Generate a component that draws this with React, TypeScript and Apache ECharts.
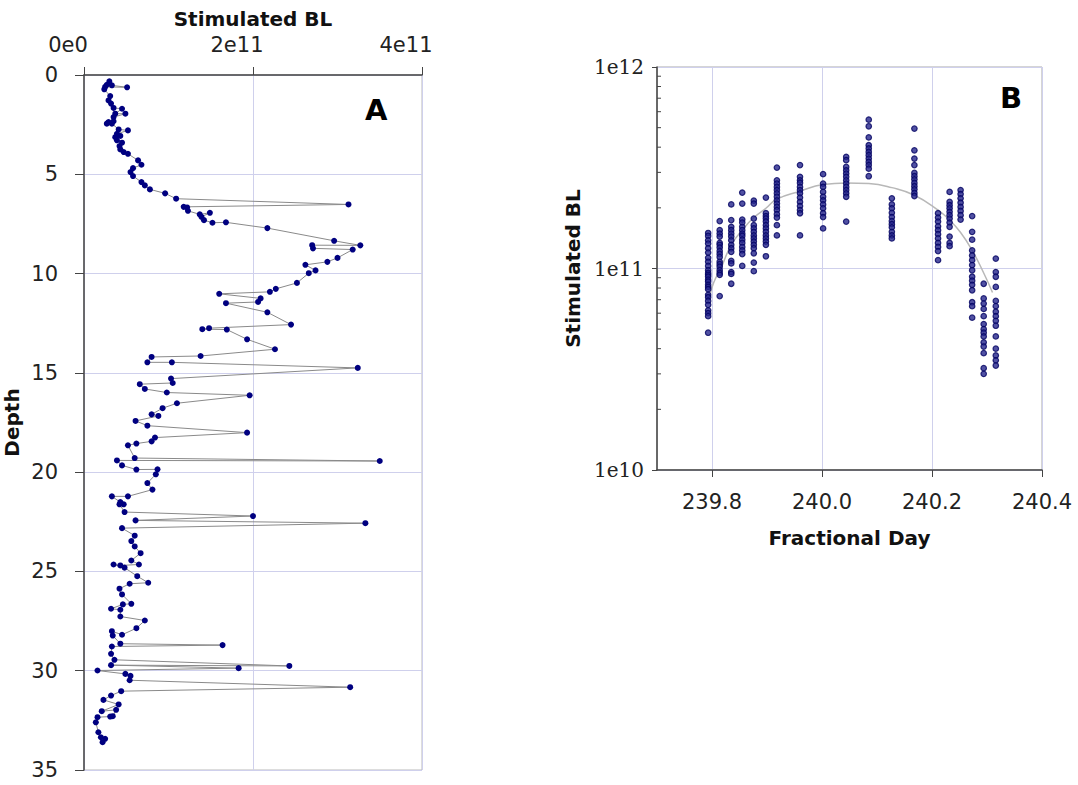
import React, { useEffect, useRef } from 'react';
import * as echarts from 'echarts';

// ---------- Panel A: depth profile ----------
const depthA = [
  0.32, 0.52, 0.49, 0.62, 0.60, 0.72, 1.06, 1.28, 1.44, 1.66, 1.70, 1.95, 1.95, 2.12, 2.33, 2.37, 2.45, 2.45,
  2.74, 2.79, 2.96, 3.07, 3.13, 3.29, 3.41, 3.58, 3.75, 3.88, 3.97, 4.30, 4.52, 4.69, 4.89, 5.09, 5.39, 5.56,
  5.76, 5.96, 6.23, 6.52, 6.64, 6.67, 6.84, 7.02, 6.94, 7.14, 7.31, 7.44, 7.42, 7.71, 8.35, 8.58, 8.57, 8.73,
  8.79, 9.21, 9.41, 9.56, 9.84, 9.98, 10.47, 10.77, 10.92, 11.02, 11.25, 11.43, 11.49, 11.95, 12.57, 12.75,
  12.80, 12.82, 13.31, 13.81, 14.15, 14.20, 14.47, 14.47, 14.75, 15.29, 15.51, 15.57, 15.81, 15.99, 16.13,
  16.53, 16.78, 17.09, 17.17, 17.42, 17.66, 18.01, 18.26, 18.45, 18.56, 18.65, 19.29, 19.44, 19.41, 19.66,
  19.87, 19.86, 20.11, 20.55, 20.88, 21.22, 21.22, 21.51, 21.62, 21.62, 22.01, 22.21, 22.43, 22.57, 22.82,
  23.20, 23.47, 23.74, 24.08, 24.45, 24.65, 24.70, 24.65, 24.81, 25.24, 25.57, 25.62, 25.87, 26.16, 26.63,
  26.66, 26.88, 26.93, 27.27, 27.47, 27.86, 28.19, 28.01, 28.23, 28.64, 28.71, 28.78, 29.15, 29.45, 29.76,
  29.72, 29.87, 29.99, 30.16, 30.26, 30.48, 30.83, 31.03, 31.25, 31.47, 31.70, 32.04, 31.97, 32.29, 32.31,
  32.34, 32.60, 33.10, 33.35, 33.43, 33.60,
];
const blA = [
  0.30e11, 0.33e11, 0.27e11, 0.51e11, 0.25e11, 0.24e11, 0.31e11, 0.29e11, 0.32e11, 0.35e11, 0.45e11, 0.37e11,
  0.49e11, 0.35e11, 0.35e11, 0.29e11, 0.27e11, 0.33e11, 0.41e11, 0.52e11, 0.39e11, 0.43e11, 0.37e11, 0.39e11,
  0.45e11, 0.42e11, 0.43e11, 0.47e11, 0.52e11, 0.64e11, 0.68e11, 0.58e11, 0.55e11, 0.58e11, 0.68e11, 0.72e11,
  0.78e11, 0.96e11, 1.09e11, 3.13e11, 1.18e11, 1.22e11, 1.23e11, 1.37e11, 1.49e11, 1.39e11, 1.42e11, 1.52e11,
  1.68e11, 2.17e11, 2.96e11, 3.27e11, 2.70e11, 2.71e11, 3.18e11, 3.00e11, 2.88e11, 2.62e11, 2.74e11, 2.66e11,
  2.52e11, 2.27e11, 2.20e11, 1.60e11, 2.09e11, 2.06e11, 1.68e11, 2.17e11, 2.45e11, 1.48e11, 1.40e11, 1.69e11,
  1.93e11, 2.26e11, 1.38e11, 0.80e11, 0.75e11, 1.04e11, 3.24e11, 1.03e11, 1.05e11, 0.66e11, 0.72e11, 0.98e11,
  1.96e11, 1.10e11, 0.93e11, 0.80e11, 0.88e11, 0.61e11, 0.75e11, 1.93e11, 0.84e11, 0.80e11, 0.62e11, 0.52e11,
  0.60e11, 3.50e11, 0.39e11, 0.45e11, 0.62e11, 0.87e11, 0.85e11, 0.75e11, 0.81e11, 0.52e11, 0.33e11, 0.43e11,
  0.47e11, 0.42e11, 0.48e11, 2.00e11, 0.61e11, 3.33e11, 0.45e11, 0.60e11, 0.56e11, 0.60e11, 0.67e11, 0.56e11,
  0.65e11, 0.43e11, 0.35e11, 0.48e11, 0.63e11, 0.76e11, 0.54e11, 0.42e11, 0.45e11, 0.56e11, 0.46e11, 0.32e11,
  0.43e11, 0.43e11, 0.72e11, 0.62e11, 0.45e11, 0.33e11, 0.34e11, 0.43e11, 1.64e11, 0.33e11, 0.32e11, 0.36e11,
  2.43e11, 0.32e11, 1.83e11, 0.16e11, 0.49e11, 0.55e11, 0.54e11, 3.15e11, 0.44e11, 0.32e11, 0.23e11, 0.41e11,
  0.21e11, 0.38e11, 0.34e11, 0.31e11, 0.16e11, 0.14e11, 0.17e11, 0.20e11, 0.25e11, 0.22e11,
];

// ---------- Panel B: diurnal samples ----------
const dayCols = [
  239.793, 239.814, 239.835, 239.855, 239.876, 239.898, 239.918, 239.960, 240.002, 240.044,
  240.085, 240.127, 240.168, 240.211, 240.232, 240.252, 240.273, 240.294, 240.316,
];
const blCols = [
  [1.50e11, 1.45e11, 1.38e11, 1.33e11, 1.26e11, 1.20e11, 1.13e11, 1.08e11, 1.03e11, 0.98e11, 0.95e11, 0.93e11, 0.91e11, 0.88e11, 0.86e11, 0.83e11, 0.81e11, 0.79e11, 0.74e11, 0.72e11, 0.69e11, 0.66e11, 0.62e11, 0.60e11, 0.58e11, 0.48e11],
  [1.72e11, 1.55e11, 1.49e11, 1.44e11, 1.34e11, 1.31e11, 1.27e11, 1.22e11, 1.18e11, 1.14e11, 1.08e11, 1.05e11, 1.02e11, 0.98e11, 0.95e11, 0.93e11, 0.73e11],
  [2.08e11, 1.74e11, 1.61e11, 1.55e11, 1.49e11, 1.44e11, 1.38e11, 1.31e11, 1.26e11, 1.21e11, 1.09e11, 1.06e11, 0.96e11, 0.94e11, 0.84e11],
  [2.38e11, 2.10e11, 1.75e11, 1.69e11, 1.61e11, 1.55e11, 1.49e11, 1.45e11, 1.39e11, 1.34e11, 1.28e11, 1.23e11, 1.18e11, 1.03e11],
  [2.17e11, 2.10e11, 1.77e11, 1.64e11, 1.58e11, 1.52e11, 1.46e11, 1.41e11, 1.36e11, 1.31e11, 1.26e11, 1.19e11, 1.07e11, 0.97e11],
  [2.25e11, 1.88e11, 1.82e11, 1.77e11, 1.71e11, 1.64e11, 1.58e11, 1.52e11, 1.46e11, 1.41e11, 1.36e11, 1.31e11, 1.15e11],
  [3.17e11, 2.74e11, 2.64e11, 2.54e11, 2.45e11, 2.36e11, 2.27e11, 2.18e11, 2.10e11, 2.02e11, 1.95e11, 1.86e11, 1.79e11, 1.64e11, 1.46e11],
  [3.26e11, 2.85e11, 2.74e11, 2.66e11, 2.54e11, 2.45e11, 2.36e11, 2.25e11, 2.14e11, 2.04e11, 1.95e11, 1.88e11, 1.46e11],
  [2.94e11, 2.64e11, 2.54e11, 2.40e11, 2.27e11, 2.18e11, 2.08e11, 1.99e11, 1.88e11, 1.80e11, 1.58e11],
  [3.58e11, 3.45e11, 3.19e11, 3.07e11, 2.96e11, 2.85e11, 2.74e11, 2.64e11, 2.54e11, 2.45e11, 2.36e11, 2.27e11, 1.71e11],
  [5.48e11, 5.08e11, 4.47e11, 4.09e11, 3.94e11, 3.79e11, 3.65e11, 3.51e11, 3.38e11, 3.26e11, 3.13e11, 2.87e11],
  [2.23e11, 2.08e11, 1.99e11, 1.89e11, 1.80e11, 1.72e11, 1.66e11, 1.60e11, 1.52e11, 1.46e11, 1.41e11],
  [4.95e11, 3.86e11, 3.51e11, 3.26e11, 2.98e11, 2.87e11, 2.77e11, 2.66e11, 2.56e11, 2.47e11, 2.37e11, 2.29e11],
  [1.88e11, 1.79e11, 1.71e11, 1.62e11, 1.55e11, 1.48e11, 1.41e11, 1.34e11, 1.28e11, 1.22e11, 1.10e11],
  [2.40e11, 2.14e11, 2.06e11, 1.99e11, 1.91e11, 1.84e11, 1.77e11, 1.69e11, 1.61e11, 1.44e11, 1.34e11, 1.29e11],
  [2.45e11, 2.34e11, 2.23e11, 2.12e11, 2.02e11, 1.93e11, 1.84e11, 1.75e11],
  [1.82e11, 1.52e11, 1.39e11, 1.23e11, 1.16e11, 1.10e11, 1.04e11, 0.98e11, 0.91e11, 0.87e11, 0.83e11, 0.78e11, 0.68e11, 0.65e11, 0.57e11],
  [0.84e11, 0.71e11, 0.67e11, 0.63e11, 0.58e11, 0.53e11, 0.50e11, 0.48e11, 0.46e11, 0.43e11, 0.41e11, 0.38e11, 0.32e11, 0.30e11],
  [1.12e11, 0.96e11, 0.91e11, 0.81e11, 0.69e11, 0.65e11, 0.61e11, 0.58e11, 0.55e11, 0.52e11, 0.46e11, 0.40e11, 0.37e11, 0.35e11, 0.33e11],
];
const trendDay = [
  239.796, 239.803, 239.816, 239.835, 239.855, 239.876, 239.898, 239.918, 239.960, 240.002,
  240.044, 240.085, 240.127, 240.168, 240.211, 240.232, 240.252, 240.273, 240.294, 240.310,
];
const trendBL = [
  0.73e11, 0.85e11, 1.00e11, 1.31e11, 1.55e11, 1.79e11, 1.99e11, 2.21e11, 2.42e11, 2.61e11,
  2.66e11, 2.64e11, 2.52e11, 2.31e11, 1.95e11, 1.74e11, 1.51e11, 1.23e11, 0.95e11, 0.76e11,
];
const dayLabelTicks = [239.8, 240.0, 240.2, 240.4];
const logMinorTicks = [
  2e10, 3e10, 4e10, 5e10, 6e10, 7e10, 8e10, 9e10,
  2e11, 3e11, 4e11, 5e11, 6e11, 7e11, 8e11, 9e11,
];

const SANS = 'DejaVu Sans';
const SERIF = 'DejaVu Serif';
const GRIDLINE = '#cfd0ec';
const AXIS = '#444';

export default function App() {
  const ref = useRef<HTMLDivElement>(null);

  useEffect(() => {
    if (!ref.current) return;
    const chart = echarts.init(ref.current, null, { renderer: 'svg' });

    const lineA = depthA.map((d, i) => [blA[i], d]);
    const scatterB: number[][] = [];
    dayCols.forEach((day, ci) => blCols[ci].forEach((v) => scatterB.push([day, v])));
    const trendB = trendDay.map((d, i) => [d, trendBL[i]]);
    const minorData = logMinorTicks.map((v) => [239.7, v]);

    const tickLabel = { fontFamily: SANS, fontSize: 21, color: '#222' };
    const nameStyle = { fontFamily: SANS, fontSize: 20, fontWeight: 'bold' as const, color: '#111' };

    chart.setOption({
      animation: false,
      backgroundColor: '#fff',
      grid: [
        { left: 84, top: 75, width: 338, height: 695, show: true, borderColor: '#bbb', borderWidth: 1, backgroundColor: 'transparent' },
        { left: 657, top: 67, width: 385, height: 403, show: true, borderColor: '#aaa', borderWidth: 1, backgroundColor: 'transparent' },
      ],
      xAxis: [
        {
          gridIndex: 0,
          type: 'value',
          position: 'top',
          min: 0,
          max: 4e11,
          interval: 2e11,
          name: 'Stimulated BL',
          nameLocation: 'middle',
          nameGap: 46,
          nameTextStyle: nameStyle,
          axisLine: { show: true, onZero: false, lineStyle: { color: AXIS, width: 1.5 } },
          axisTick: { show: true, length: 8, lineStyle: { color: AXIS } },
          axisLabel: {
            ...tickLabel,
            margin: 20,
            padding: [0, 32, 0, 0],
            formatter: (v: number) => (v === 0 ? '0e0' : `${Math.round(v / 1e11)}e11`),
          },
          splitLine: { show: true, lineStyle: { color: GRIDLINE, width: 1 } },
        },
        {
          gridIndex: 1,
          type: 'value',
          position: 'bottom',
          min: 239.7,
          max: 240.4,
          interval: 0.1,
          name: 'Fractional Day',
          nameLocation: 'middle',
          nameGap: 58,
          nameTextStyle: nameStyle,
          axisLine: { show: true, onZero: false, lineStyle: { color: AXIS, width: 1.5 } },
          axisTick: { show: true, length: 7, customValues: dayLabelTicks, lineStyle: { color: AXIS } },
          axisLabel: {
            ...tickLabel,
            margin: 21,
            customValues: dayLabelTicks,
            formatter: (v: number) => v.toFixed(1),
          },
          splitLine: { show: true, lineStyle: { color: GRIDLINE, width: 1 } },
        },
      ],
      yAxis: [
        {
          gridIndex: 0,
          type: 'value',
          inverse: true,
          min: 0,
          max: 35,
          interval: 5,
          name: 'Depth',
          nameLocation: 'middle',
          nameGap: 62,
          nameRotate: 90,
          nameTextStyle: nameStyle,
          axisLine: { show: true, onZero: false, lineStyle: { color: AXIS, width: 1.5 } },
          axisTick: { show: true, length: 9, lineStyle: { color: AXIS } },
          axisLabel: { ...tickLabel, margin: 26 },
          splitLine: { show: true, lineStyle: { color: GRIDLINE, width: 1 } },
        },
        {
          gridIndex: 1,
          type: 'log',
          logBase: 10,
          min: 1e10,
          max: 1e12,
          name: 'Stimulated BL',
          nameLocation: 'middle',
          nameGap: 74,
          nameRotate: 90,
          nameTextStyle: nameStyle,
          axisLine: { show: true, onZero: false, lineStyle: { color: AXIS, width: 1.5 } },
          axisTick: { show: true, length: 5, lineStyle: { color: AXIS } },
          axisLabel: {
            fontFamily: SERIF,
            fontSize: 20,
            color: '#222',
            margin: 13,
            formatter: (v: number) => `1e${Math.round(Math.log10(v))}`,
          },
          splitLine: { show: true, lineStyle: { color: GRIDLINE, width: 1 } },
        },
      ],
      graphic: [
        {
          type: 'text',
          left: 365,
          top: 95,
          style: { text: 'A', fontFamily: SANS, fontWeight: 'bold', fontSize: 29, fill: '#000' },
        },
        {
          type: 'text',
          left: 1000,
          top: 83,
          style: { text: 'B', fontFamily: SANS, fontWeight: 'bold', fontSize: 29, fill: '#000' },
        },
      ],
      series: [
        {
          type: 'line',
          xAxisIndex: 0,
          yAxisIndex: 0,
          data: lineA,
          symbol: 'circle',
          symbolSize: 6,
          showSymbol: true,
          lineStyle: { color: '#8a8a8a', width: 1 },
          itemStyle: { color: '#000080' },
          z: 3,
        },
        {
          type: 'line',
          xAxisIndex: 1,
          yAxisIndex: 1,
          data: trendB,
          smooth: true,
          symbol: 'none',
          lineStyle: { color: '#b8b8b8', width: 1.5 },
          z: 2,
        },
        {
          type: 'scatter',
          xAxisIndex: 1,
          yAxisIndex: 1,
          data: scatterB,
          symbol: 'circle',
          symbolSize: 5.5,
          itemStyle: { color: '#26268c', borderColor: '#000060', borderWidth: 1.2 },
          z: 3,
        },
        {
          type: 'custom',
          xAxisIndex: 1,
          yAxisIndex: 1,
          data: minorData,
          clip: false,
          silent: true,
          renderItem: (params: any, api: any) => {
            const p = api.coord([api.value(0), api.value(1)]);
            return {
              type: 'line',
              shape: { x1: p[0], y1: p[1], x2: p[0] + 4, y2: p[1] },
              style: { stroke: AXIS, lineWidth: 1 },
            };
          },
          z: 4,
        },
      ],
    });

    return () => chart.dispose();
  }, []);

  return (
    <div
      ref={ref}
      style={{ position: 'fixed', left: 0, top: 0, width: 1078, height: 785, background: '#fff' }}
    />
  );
}
